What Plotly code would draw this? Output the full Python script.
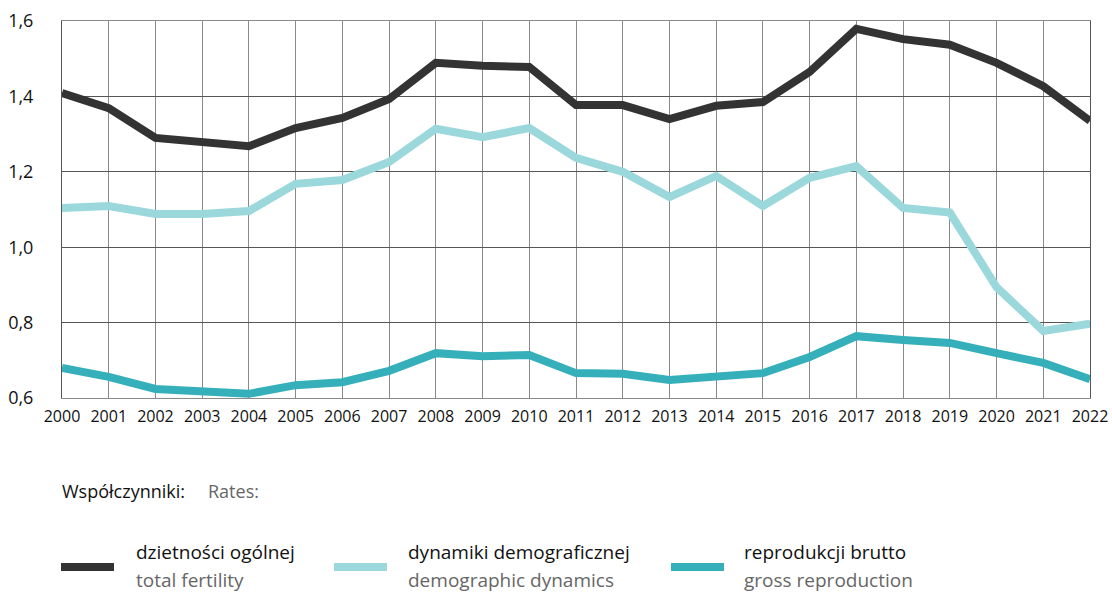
import plotly.graph_objects as go

years = [str(y) for y in range(2000, 2023)]
total_fertility = [1.409, 1.369, 1.290, 1.279, 1.268, 1.316, 1.343, 1.393, 1.489, 1.481, 1.478,
                   1.377, 1.377, 1.340, 1.375, 1.385, 1.465, 1.579, 1.552, 1.537, 1.489, 1.427, 1.335]
demographic_dynamics = [1.104, 1.109, 1.088, 1.088, 1.096, 1.168, 1.178, 1.226, 1.314, 1.292, 1.316,
                        1.237, 1.200, 1.133, 1.189, 1.109, 1.184, 1.215, 1.104, 1.092, 0.894, 0.778, 0.797]
gross_reproduction = [0.680, 0.656, 0.624, 0.619, 0.611, 0.634, 0.642, 0.672, 0.719, 0.711, 0.714,
                      0.666, 0.664, 0.648, 0.658, 0.666, 0.709, 0.764, 0.754, 0.746, 0.719, 0.693, 0.650]
y_ticks = [0.6, 0.8, 1.0, 1.2, 1.4, 1.6]
y_ticklabels = ["0,6", "0,8", "1,0", "1,2", "1,4", "1,6"]

series = [
    ("dzietności ogólnej", "total fertility", total_fertility, "#333333"),
    ("dynamiki demograficznej", "demographic dynamics", demographic_dynamics, "#9ad8db"),
    ("reprodukcji brutto", "gross reproduction", gross_reproduction, "#35b0bb"),
]

FONT = "Open Sans"
fig = go.Figure()
for pl, en, vals, col in series:
    fig.add_trace(go.Scatter(x=list(range(len(years))), y=vals, mode="lines",
                             line=dict(color=col, width=8), showlegend=False))

W, H = 1112, 592
L, R, T, B = 62, 1090, 21, 398
fig.update_layout(
    width=W, height=H, autosize=False,
    margin=dict(l=L, r=W - R, t=T, b=H - B, pad=0, autoexpand=False),
    plot_bgcolor="white", paper_bgcolor="white",
    font=dict(family=FONT, color="#111111"),
    xaxis=dict(range=[0, len(years) - 1], tickvals=list(range(len(years))), ticktext=years,
               automargin=False,
               showgrid=True, gridcolor="#8a8a8a", gridwidth=1, zeroline=False,
               showline=True, linecolor="#8a8a8a", mirror=True,
               ticks="outside", ticklen=4, tickcolor="rgba(0,0,0,0)",
               tickfont=dict(size=16, family=FONT, color="#111111")),
    yaxis=dict(range=[0.6, 1.6], tickvals=y_ticks, ticktext=y_ticklabels,
               automargin=False,
               showgrid=True, gridcolor="#555555", gridwidth=1, zeroline=False,
               showline=True, linecolor="#555555", mirror=True,
               ticks="outside", ticklen=24, tickcolor="rgba(0,0,0,0)",
               tickfont=dict(size=18, family=FONT, color="#111111")),
)


def px_x(px):
    return (px - L) / (R - L)


def px_y(py):
    return (B - py) / (B - T)


fig.add_annotation(text="Współczynniki:", xref="paper", yref="paper", x=px_x(60), y=px_y(491),
                   xanchor="left", yanchor="middle", showarrow=False,
                   font=dict(size=18, family=FONT, color="#111111"))
fig.add_annotation(text="Rates:", xref="paper", yref="paper", x=px_x(206), y=px_y(491),
                   xanchor="left", yanchor="middle", showarrow=False,
                   font=dict(size=18, family=FONT, color="#666666"))

legend_pos = [(61, 114, 134), (334, 387, 406), (671, 724, 742)]
for (pl, en, vals, col), (lx0, lx1, tx) in zip(series, legend_pos):
    fig.add_shape(type="line", xref="paper", yref="paper",
                  x0=px_x(lx0), x1=px_x(lx1), y0=px_y(567), y1=px_y(567),
                  line=dict(color=col, width=8))
    fig.add_annotation(text=pl, xref="paper", yref="paper", x=px_x(tx), y=px_y(552),
                       xanchor="left", yanchor="middle", showarrow=False,
                       font=dict(size=19, family=FONT, color="#111111"))
    fig.add_annotation(text=en, xref="paper", yref="paper", x=px_x(tx), y=px_y(580),
                       xanchor="left", yanchor="middle", showarrow=False,
                       font=dict(size=19, family=FONT, color="#666666"))

post = ("document.documentElement.style.margin='0';document.documentElement.style.overflow='hidden';"
        "document.body.style.margin='0';document.body.style.overflow='hidden';"
        "var gd=document.getElementById('{plot_id}');"
        "Plotly.relayout(gd,{width:%d,height:%d});" % (W, H))
fig.write_html("out.html", config={"displayModeBar": False}, post_script=post)
